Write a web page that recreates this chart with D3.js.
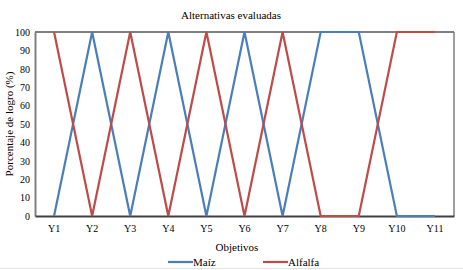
<!DOCTYPE html>
<html>
<head>
<meta charset="utf-8">
<script src="https://cdn.jsdelivr.net/npm/d3@7"></script>
<style>
  body { margin: 0; background: #fff; }
  svg text { font-family: "Liberation Serif", "DejaVu Serif", serif; }
</style>
</head>
<body>
<div id="chart"></div>
<script>
var categories = ["Y1", "Y2", "Y3", "Y4", "Y5", "Y6", "Y7", "Y8", "Y9", "Y10", "Y11"];
var maiz = [0, 100, 0, 100, 0, 100, 0, 100, 100, 0, 0];
var alfalfa = [100, 0, 100, 0, 100, 0, 100, 0, 0, 100, 100];
var yTicks = [0, 10, 20, 30, 40, 50, 60, 70, 80, 90, 100];

var width = 463, height = 270;
var margin = {top: 32, right: 9, bottom: 54, left: 35};
var width_g = width - margin.left - margin.right,
    height_g = height - margin.top - margin.bottom;

var svg = d3.select("#chart").append("svg")
    .attr("width", width)
    .attr("height", height);

// faint line at the bottom edge
svg.append("rect")
    .attr("x", 0).attr("y", height - 2)
    .attr("width", width).attr("height", 1)
    .attr("fill", "#e4e4e4");

var x = d3.scaleBand().domain(categories).range([0, width_g]);
var y = d3.scaleLinear().domain([0, 100]).range([height_g, 0]);

var g = svg.append("g")
    .attr("transform", "translate(" + margin.left + "," + margin.top + ")");

// frame: top black, right gray
g.append("line").attr("x1", 0).attr("x2", width_g).attr("y1", 0).attr("y2", 0)
    .attr("stroke", "#000").attr("stroke-width", 1.2);
g.append("line").attr("x1", width_g).attr("x2", width_g).attr("y1", 0).attr("y2", height_g)
    .attr("stroke", "#7f7f7f").attr("stroke-width", 1.5);

// y axis
var yAxis = g.append("g").call(d3.axisLeft(y).tickValues(yTicks).tickSize(0).tickPadding(5))
    .attr("font-family", null);
yAxis.select(".domain").attr("stroke", "#7f7f7f").attr("stroke-width", 2);
yAxis.selectAll("text").attr("font-size", 10).attr("fill", "#000");

// x axis
var xAxis = g.append("g").attr("transform", "translate(0," + height_g + ")")
    .call(d3.axisBottom(x).tickSize(0).tickPadding(9))
    .attr("font-family", null);
xAxis.select(".domain").attr("stroke", "#404040").attr("stroke-width", 2.2);
xAxis.selectAll("text").attr("font-size", 10).attr("fill", "#000");

// series lines on top of the axes
var line = d3.line()
    .x(function (d, i) { return x(categories[i]) + x.bandwidth() / 2; })
    .y(function (d) { return y(d); });

g.append("path").datum(maiz)
    .attr("d", line).attr("fill", "none")
    .attr("stroke", "#4a7ebb").attr("stroke-width", 2.2);
g.append("path").datum(alfalfa)
    .attr("d", line).attr("fill", "none")
    .attr("stroke", "#be4b48").attr("stroke-width", 2.2);

// title
svg.append("text")
    .attr("x", 231).attr("y", 19)
    .attr("text-anchor", "middle").attr("font-size", 11)
    .text("Alternativas evaluadas");

// x axis label
svg.append("text")
    .attr("x", 237).attr("y", 251)
    .attr("text-anchor", "middle").attr("font-size", 11)
    .text("Objetivos");

// y axis label
svg.append("text")
    .attr("transform", "translate(13," + (margin.top + height_g / 2) + ") rotate(-90)")
    .attr("text-anchor", "middle").attr("font-size", 11)
    .text("Porcentaje de logro (%)");

// legend
var legend = [
    {name: "Maíz", color: "#4a7ebb", x: 168},
    {name: "Alfalfa", color: "#be4b48", x: 263}
];
var lg = svg.append("g").selectAll("g").data(legend).enter().append("g")
    .attr("transform", function (d) { return "translate(" + d.x + ",262)"; });
lg.append("line").attr("x1", 0).attr("x2", 25).attr("y1", 0).attr("y2", 0)
    .attr("stroke", function (d) { return d.color; }).attr("stroke-width", 2.2);
lg.append("text").attr("x", 25).attr("y", 4).attr("font-size", 11)
    .text(function (d) { return d.name; });
</script>
</body>
</html>
